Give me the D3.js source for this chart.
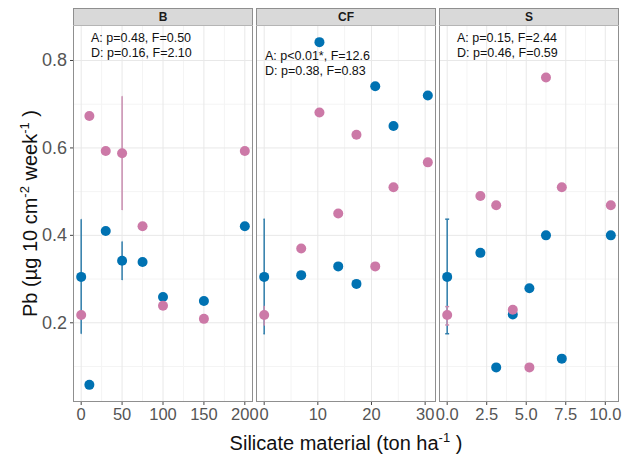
<!DOCTYPE html>
<html>
<head>
<meta charset="utf-8">
<script src="https://cdn.jsdelivr.net/npm/d3@7"></script>
<style>
  html, body { margin: 0; padding: 0; background: #fff; }
  svg { display: block; font-family: "Liberation Sans", Arial, Helvetica, sans-serif; }
</style>
</head>
<body>
<svg id="chart"></svg>
<script>
const width = 625;
const height = 460;

// facets and their data (Pb per dose, two series)
const facets = ["B", "CF", "S"];

const doseB = [0, 10, 30, 50, 75, 100, 150, 200];
const blueB = [0.305, 0.058, 0.41, 0.342, 0.339, 0.259, 0.25, 0.421];
const pinkB = [0.218, 0.673, 0.593, 0.588, 0.421, 0.239, 0.209, 0.593];

const doseCF = [0, 6.9, 10.3, 13.8, 17.2, 20.7, 24.1, 30.5];
const blueCF = [0.305, 0.309, 0.842, 0.329, 0.289, 0.741, 0.65, 0.72];
const pinkCF = [0.218, 0.37, 0.681, 0.45, 0.63, 0.329, 0.51, 0.567];

const doseS = [0, 2.1, 3.1, 4.15, 5.2, 6.25, 7.25, 10.35];
const blueS = [0.305, 0.36, 0.098, 0.219, 0.279, 0.4, 0.118, 0.4];
const pinkS = [0.218, 0.49, 0.469, 0.23, 0.098, 0.761, 0.51, 0.469];

// error bars: [dose, low, high, series]
const errB = [[0, 0.175, 0.437, "blue"], [50, 0.298, 0.386, "blue"], [50, 0.458, 0.718, "pink"]];
const errCF = [[0, 0.175, 0.437, "blue"], [0, 0.195, 0.237, "pink"]];
const errS = [[0, 0.175, 0.437, "blue"], [0, 0.195, 0.237, "pink"]];

// tick labels per facet
const ticksB = [0, 50, 100, 150, 200];
const ticksCF = [0, 10, 20, 30];
const ticksS = [0, 2.5, 5, 7.5, 10];
const yTicks = [0.2, 0.4, 0.6, 0.8];

// stats text per facet
const statsB = ["A: p=0.48, F=0.50", "D: p=0.16, F=2.10"];
const statsCF = ["A: p<0.01*, F=12.6", "D: p=0.38, F=0.83"];
const statsS = ["A: p=0.15, F=2.44", "D: p=0.46, F=0.59"];

const panels = [
  {name: facets[0], dose: doseB, blue: blueB, pink: pinkB, err: errB, ticks: ticksB, fmt: d3.format("d"), stats: statsB, tx: 18, ty: 42},
  {name: facets[1], dose: doseCF, blue: blueCF, pink: pinkCF, err: errCF, ticks: ticksCF, fmt: d3.format("d"), stats: statsCF, tx: 9, ty: 60},
  {name: facets[2], dose: doseS, blue: blueS, pink: pinkS, err: errS, ticks: ticksS, fmt: d3.format(".1f"), stats: statsS, tx: 18, ty: 42}
];

const colors = {blue: "#0072B2", pink: "#CC79A7"};
const barColors = {blue: "#2f7dab", pink: "#c98db0"};

const svg = d3.select("#chart").attr("width", width).attr("height", height);

// layout
const plotLeft = 73, panelW = 180, gap = 3;
const stripTop = 8, plotTop = 25, plotBottom = 402;

// shared y scale with ggplot-like 5% expansion
const allY = [].concat(blueB, pinkB, blueCF, pinkCF, blueS, pinkS);
const yExt = d3.extent(allY);
const yPad = (yExt[1] - yExt[0]) * 0.05;
const y = d3.scaleLinear().domain([yExt[0] - yPad, yExt[1] + yPad]).range([plotBottom, plotTop]);
const yMinor = d3.range(0.1, 0.9, 0.2);

panels.forEach((p, i) => {
  const x0 = plotLeft + i * (panelW + gap);
  const ext = d3.extent(p.dose);
  const pad = (ext[1] - ext[0]) * 0.05;
  const x = d3.scaleLinear().domain([ext[0] - pad, ext[1] + pad]).range([x0, x0 + panelW]);
  const step = p.ticks[1] - p.ticks[0];
  const xMinor = p.ticks.slice(0, -1).map(t => t + step / 2);

  const g = svg.append("g");

  g.append("rect")
    .attr("x", x0).attr("y", plotTop).attr("width", panelW).attr("height", plotBottom - plotTop)
    .attr("fill", "#fff");

  // minor grid
  g.selectAll(".ymin").data(yMinor).enter().append("line")
    .attr("x1", x0).attr("x2", x0 + panelW)
    .attr("y1", d => y(d)).attr("y2", d => y(d))
    .attr("stroke", "#f4f4f4").attr("stroke-width", 1);
  g.selectAll(".xmin").data(xMinor).enter().append("line")
    .attr("x1", d => x(d)).attr("x2", d => x(d))
    .attr("y1", plotTop).attr("y2", plotBottom)
    .attr("stroke", "#f4f4f4").attr("stroke-width", 1);

  // major grid
  g.selectAll(".ymaj").data(yTicks).enter().append("line")
    .attr("x1", x0).attr("x2", x0 + panelW)
    .attr("y1", d => y(d)).attr("y2", d => y(d))
    .attr("stroke", "#e8e8e8").attr("stroke-width", 1);
  g.selectAll(".xmaj").data(p.ticks).enter().append("line")
    .attr("x1", d => x(d)).attr("x2", d => x(d))
    .attr("y1", plotTop).attr("y2", plotBottom)
    .attr("stroke", "#e8e8e8").attr("stroke-width", 1);

  // error bars (drawn under the points)
  const capW = 0.25;
  p.err.forEach(e => {
    const c = barColors[e[3]];
    g.append("line")
      .attr("x1", x(e[0])).attr("x2", x(e[0]))
      .attr("y1", y(e[1])).attr("y2", y(e[2]))
      .attr("stroke", c).attr("stroke-width", 1.5);
    [e[1], e[2]].forEach(v => {
      g.append("line")
        .attr("x1", x(e[0] - capW / 2)).attr("x2", x(e[0] + capW / 2))
        .attr("y1", y(v)).attr("y2", y(v))
        .attr("stroke", c).attr("stroke-width", 1.5);
    });
  });

  // points: blue first, pink on top
  ["blue", "pink"].forEach(s => {
    g.selectAll(".pt-" + s).data(p.dose).enter().append("circle")
      .attr("cx", d => x(d))
      .attr("cy", (d, j) => y(p[s][j]))
      .attr("r", 5)
      .attr("fill", colors[s]);
  });

  // strip
  g.append("rect")
    .attr("x", x0).attr("y", stripTop).attr("width", panelW).attr("height", plotTop - stripTop)
    .attr("fill", "#d9d9d9");
  g.append("text")
    .attr("x", x0 + panelW / 2).attr("y", stripTop + 13)
    .attr("text-anchor", "middle")
    .attr("font-size", 12).attr("font-weight", "bold").attr("fill", "#1a1a1a")
    .text(p.name);

  // border
  g.append("rect")
    .attr("x", x0 + 0.5).attr("y", stripTop + 0.5).attr("width", panelW - 1).attr("height", plotBottom - stripTop - 1)
    .attr("fill", "none").attr("stroke", "#8f8f8f").attr("stroke-width", 1);
  g.append("line")
    .attr("x1", x0).attr("x2", x0 + panelW).attr("y1", plotTop + 0.5).attr("y2", plotTop + 0.5)
    .attr("stroke", "#b5b5b5");

  // stats text
  p.stats.forEach((t, k) => {
    g.append("text")
      .attr("x", x0 + p.tx).attr("y", p.ty + k * 14.5)
      .attr("font-size", 12.5).attr("fill", "#111")
      .text(t);
  });

  // x axis ticks + labels
  g.selectAll(".xt").data(p.ticks).enter().append("line")
    .attr("x1", d => x(d)).attr("x2", d => x(d))
    .attr("y1", plotBottom).attr("y2", plotBottom + 3)
    .attr("stroke", "#444");
  g.selectAll(".xl").data(p.ticks).enter().append("text")
    .attr("x", d => x(d)).attr("y", plotBottom + 18)
    .attr("text-anchor", "middle")
    .attr("font-size", 16.5).attr("fill", "#555")
    .text(d => p.fmt(d));
});

// y axis
svg.selectAll(".yt").data(yTicks).enter().append("line")
  .attr("x1", plotLeft - 3).attr("x2", plotLeft)
  .attr("y1", d => y(d)).attr("y2", d => y(d))
  .attr("stroke", "#444");
svg.selectAll(".yl").data(yTicks).enter().append("text")
  .attr("x", plotLeft - 6).attr("y", d => y(d) + 6)
  .attr("text-anchor", "end")
  .attr("font-size", 18).attr("fill", "#555")
  .text(d => d3.format(".1f")(d));

// axis titles
const xt = svg.append("text")
  .attr("x", plotLeft + (3 * panelW + 2 * gap) / 2).attr("y", 450)
  .attr("text-anchor", "middle").attr("font-size", 20).attr("fill", "#111");
xt.append("tspan").text("Silicate material (ton ha");
xt.append("tspan").attr("dy", -8).attr("font-size", 13).text("-1");
xt.append("tspan").attr("dy", 8).text(" )");

const yt = svg.append("text")
  .attr("transform", `translate(37,${(plotTop + plotBottom) / 2}) rotate(-90)`)
  .attr("text-anchor", "middle").attr("font-size", 20).attr("fill", "#111");
yt.append("tspan").text("Pb (µg 10 cm");
yt.append("tspan").attr("dy", -8).attr("font-size", 13).text("-2");
yt.append("tspan").attr("dy", 8).text(" week");
yt.append("tspan").attr("dy", -8).attr("font-size", 13).text("-1");
yt.append("tspan").attr("dy", 8).text(" )");
</script>
</body>
</html>
